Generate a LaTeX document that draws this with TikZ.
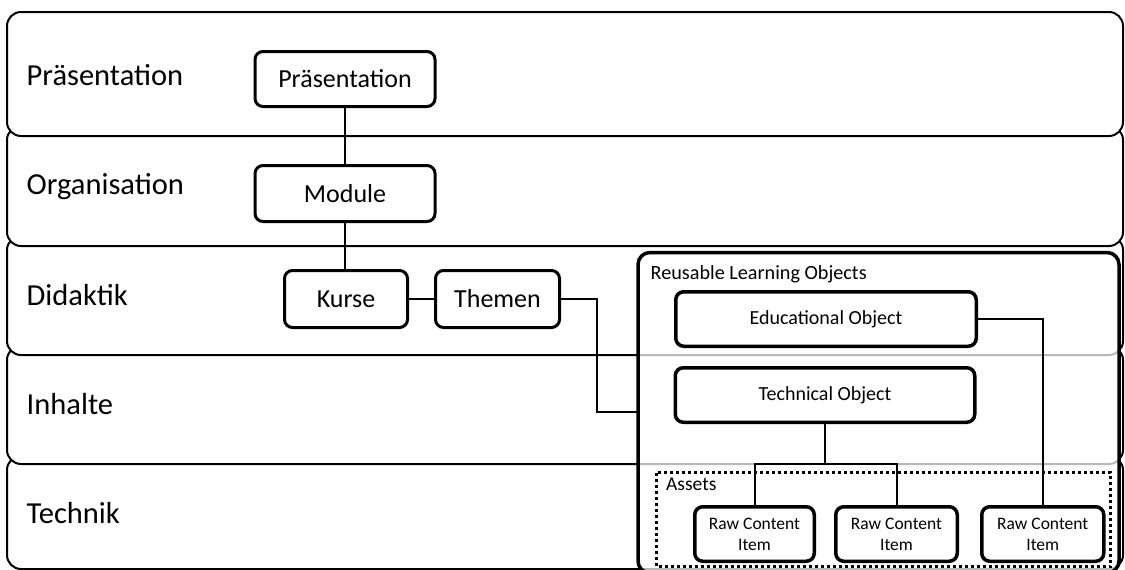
\documentclass[tikz,border=0pt]{standalone}
\usepackage{fontspec}
\setmainfont{Carlito}
\usetikzlibrary{calc}

\tikzset{
  band/.style={draw, line width=2pt, rounded corners=14pt, fill=white,
    minimum width=1116pt, inner sep=0pt},
  layerlabel/.style={anchor=base west, inner sep=0pt,
    font=\fontsize{30.5}{36}\selectfont},
  box/.style={draw, line width=3pt, rounded corners=8pt, fill=white,
    inner sep=0pt, align=center, font=\fontsize{26}{30}\selectfont},
  objbox/.style={box, line width=3.5pt, font=\fontsize{20}{24}\selectfont},
  rawbox/.style={objbox, font=\fontsize{17.5}{21}\selectfont},
  grouplabel/.style={anchor=base west, inner sep=0pt,
    font=\fontsize{20.2}{24}\selectfont},
  link/.style={line width=2pt},
}

\begin{document}
\begin{tikzpicture}[x=1pt, y=-1pt]
\useasboundingbox (0,0) rectangle (1125,570);

% layer bands, lowest first so each upper band overlaps the next one
\node[band, minimum height=113pt] (technik)  at (565,512.5) {};
\node[band, minimum height=118pt] (inhalte)  at (565,405) {};
\node[band, minimum height=119pt] (didaktik) at (565,295.5) {};
\node[band, minimum height=120pt] (organisation) at (565,186) {};
\node[band, minimum height=124pt] (praesentation) at (565,74) {};

% layer names
\node[layerlabel] (lpraes) at (26.5,85)  {Präsentation};
\node[layerlabel] (lorg)   at (26.5,194) {Organisation};
\node[layerlabel] (ldid)   at (26.5,305) {Didaktik};
\node[layerlabel] (linh)   at (26.5,414) {Inhalte};
\node[layerlabel] (ltech)  at (26.5,523) {Technik};

% structure on the left
\node[box, minimum width=180pt, minimum height=55pt] (pres)   at (345,79)    {Präsentation};
\node[box, minimum width=180pt, minimum height=56pt] (mod)    at (345,193.5) {Module};
\node[box, minimum width=123pt, minimum height=57pt] (kurse)  at (346,299)   {Kurse};
\node[box, minimum width=124pt, minimum height=57pt] (themen) at (497.5,299) {Themen};

% reusable learning objects container (translucent, band edges show through)
\draw[line width=3.5pt, rounded corners=12pt, fill=white, fill opacity=0.72]
  (638,252.5) rectangle (1119,573);
\coordinate (rloin) at (638,412);
\node[grouplabel] (rlolabel) at (650.5,279) {Reusable Learning Objects};

% assets group
\draw[line width=3pt, dash pattern=on 3pt off 3pt]
  (656.5,472.5) rectangle (1110.5,566.5);
\node[grouplabel, font=\fontsize{19.5}{24}\selectfont] (assetslabel) at (666,490) {Assets};

% objects
\node[objbox, minimum width=300.5pt, minimum height=54.5pt] (edu)  at (826,319)   {Educational Object};
\node[objbox, minimum width=299.5pt, minimum height=54.5pt] (tech) at (825,395)   {Technical Object};
\node[rawbox, minimum width=119.5pt, minimum height=54.5pt] (raw1) at (754.5,534) {Raw Content\\Item};
\node[rawbox, minimum width=121.5pt, minimum height=54.5pt] (raw2) at (896.5,534) {Raw Content\\Item};
\node[rawbox, minimum width=122pt,   minimum height=54.5pt] (raw3) at (1042.75,534) {Raw Content\\Item};

% connectors
\coordinate (tbend) at (597,0);
\coordinate (hub) at (825,464);
\draw[link] (pres.south) -- (mod.north);
\draw[link] (mod.south) -- (mod.south |- kurse.north);
\draw[link] (kurse.east) -- (themen.west);
\draw[link] (themen.east) -- (themen.east -| tbend) |- (rloin);
\draw[link] (tech.south) -- (hub);
\draw[link] (raw1.north) |- (hub) -| (raw2.north);
\draw[link] (edu.east) -| (raw3.north);
\end{tikzpicture}
\end{document}
